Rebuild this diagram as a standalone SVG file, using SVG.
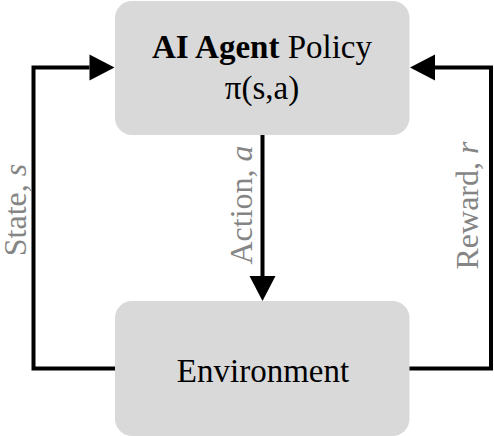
<svg xmlns="http://www.w3.org/2000/svg" width="494" height="436" viewBox="0 0 494 436">
  <style>
    .box { fill: #d9d9d9; }
    .t { font-family: "Liberation Serif", "Times New Roman", serif; font-size: 33px; fill: #000; text-anchor: middle; }
    .lbl { font-family: "Liberation Serif", "Times New Roman", serif; font-size: 32px; fill: #858585; text-anchor: middle; }
    .conn { fill: none; stroke: #000; stroke-width: 4; stroke-linejoin: miter; }
  </style>
  <defs>
    <marker id="arr" markerUnits="userSpaceOnUse" markerWidth="26" markerHeight="27" refX="0" refY="13" orient="auto" overflow="visible">
      <path d="M0,0 L25,13 L0,26 z" fill="#000"/>
    </marker>
  </defs>
  <rect width="494" height="436" fill="#fff"/>
  <g id="connectors">
    <path class="conn" d="M116,368.5 H33.5 V67.5 H89.5" marker-end="url(#arr)"/>
    <path class="conn" d="M408,368.5 H491 V67.5 H435" marker-end="url(#arr)"/>
    <path class="conn" d="M262.5,134 V276" marker-end="url(#arr)"/>
    <text class="lbl" transform="translate(26,210) rotate(-90)">State, <tspan font-style="italic">s</tspan></text>
    <text class="lbl" transform="translate(252,205) rotate(-90)">Action, <tspan font-style="italic">a</tspan></text>
    <text class="lbl" transform="translate(478,205.5) rotate(-90)">Reward, <tspan font-style="italic">r</tspan></text>
  </g>
  <g id="agent">
    <rect class="box" x="115" y="1" width="294.5" height="134" rx="17" ry="17"/>
    <text class="t" x="262" y="58"><tspan font-weight="bold">AI Agent</tspan> Policy</text>
    <text class="t" x="262" y="99">π(s,a)</text>
  </g>
  <g id="environment">
    <rect class="box" x="115" y="301" width="294.5" height="135" rx="17" ry="17"/>
    <text class="t" x="263" y="382">Environment</text>
  </g>
</svg>
